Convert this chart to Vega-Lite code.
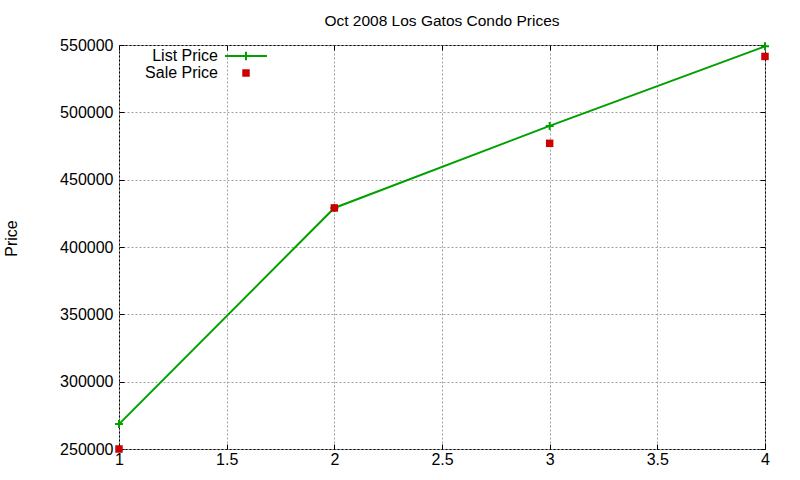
{
  "$schema": "https://vega.github.io/schema/vega-lite/v6.json",
  "width": 646,
  "height": 404,
  "autosize": "none",
  "padding": {"left": 119, "top": 45, "right": 35, "bottom": 31},
  "background": "white",
  "title": {"text": "Oct 2008 Los Gatos Condo Prices", "font": "Liberation Sans", "fontSize": 15.5, "fontWeight": "normal", "color": "black", "anchor": "middle", "frame": "group", "baseline": "alphabetic", "offset": 17, "dy": 21},
  "config": {
    "view": {"stroke": "black", "strokeWidth": 1},
    "axis": {"labelFont": "Liberation Sans", "labelFontSize": 16, "labelColor": "black", "labelFlush": false, "labelOverlap": false, "titleFont": "Liberation Sans", "titleFontSize": 16, "titleFontWeight": "normal", "titleColor": "black", "domain": false, "tickColor": "black", "tickSize": -5, "tickWidth": 1, "gridColor": "#a0a0a0", "gridDash": [2, 2], "gridOpacity": 1, "gridWidth": 1}
  },
  "data": {"values": [
    {"bedrooms": 1, "series": "List Price", "price": 268500},
    {"bedrooms": 2, "series": "List Price", "price": 429000},
    {"bedrooms": 3, "series": "List Price", "price": 489900},
    {"bedrooms": 4, "series": "List Price", "price": 549000},
    {"bedrooms": 1, "series": "Sale Price", "price": 250000},
    {"bedrooms": 2, "series": "Sale Price", "price": 429000},
    {"bedrooms": 3, "series": "Sale Price", "price": 477000},
    {"bedrooms": 4, "series": "Sale Price", "price": 541500}
  ]},
  "encoding": {
    "x": {"field": "bedrooms", "type": "quantitative", "scale": {"domain": [1, 4], "nice": false, "zero": false}},
    "y": {"field": "price", "type": "quantitative", "scale": {"domain": [250000, 550000], "nice": false, "zero": false}},
    "color": {"field": "series", "type": "nominal", "scale": {"domain": ["List Price", "Sale Price"], "range": ["#00a000", "#cc0000"]},
      "legend": {"title": null, "orient": "none", "legendX": 119, "legendY": 3, "padding": 0, "labelFont": "Liberation Sans", "labelFontSize": 16, "labelColor": "black", "labelAlign": "right", "labelOffset": -36, "symbolSize": 56, "rowPadding": 0,
        "encode": {
          "labels": {"update": {"y": {"signal": "datum.value === 'List Price' ? 8 : 4"}, "baseline": {"value": "middle"}}},
          "symbols": {"update": {
          "y": {"signal": "datum.value === 'List Price' ? 8 : 4"},
          "shape": {"signal": "datum.value === 'List Price' ? 'M-1,0H1M0,-0.2V0.2' : 'square'"},
          "size": {"signal": "datum.value === 'List Price' ? 1764 : 56"},
          "fill": {"signal": "datum.value === 'List Price' ? 'transparent' : '#cc0000'"},
          "stroke": {"signal": "datum.value === 'List Price' ? '#00a000' : 'transparent'"},
          "strokeWidth": {"signal": "datum.value === 'List Price' ? 2 : 0"},
          "opacity": {"value": 1}
        }}}}}
  },
  "layer": [
    {
      "transform": [{"filter": "datum.series === 'List Price'"}],
      "mark": {"type": "line", "strokeWidth": 2},
      "encoding": {
        "x": {"field": "bedrooms", "type": "quantitative", "title": null, "axis": {"values": [1, 1.5, 2, 2.5, 3, 3.5, 4], "format": ".1~f", "grid": true, "labelPadding": 7}},
        "y": {"field": "price", "type": "quantitative", "title": "Price", "axis": {"values": [250000, 300000, 350000, 400000, 450000, 500000, 550000], "format": "d", "grid": true, "labelPadding": 11, "titleAngle": -90, "titleX": -103, "titleY": 193, "titleAlign": "center", "titleBaseline": "alphabetic"}}
      }
    },
    {
      "transform": [{"filter": "datum.series === 'List Price'"}],
      "mark": {"type": "point", "shape": "M-1,0H1M0,-1V1", "filled": false, "size": 64, "strokeWidth": 2, "opacity": 1},
      "encoding": {
        "x": {"field": "bedrooms", "type": "quantitative", "axis": {"orient": "top", "values": [1, 1.5, 2, 2.5, 3, 3.5, 4], "labels": false, "grid": false, "title": null}},
        "y": {"field": "price", "type": "quantitative", "axis": {"orient": "right", "values": [250000, 300000, 350000, 400000, 450000, 500000, 550000], "labels": false, "grid": false, "title": null}}
      }
    },
    {
      "transform": [{"filter": "datum.series === 'Sale Price'"}],
      "mark": {"type": "square", "size": 56, "filled": true, "opacity": 1},
      "encoding": {
        "x": {"field": "bedrooms", "type": "quantitative", "axis": null},
        "y": {"field": "price", "type": "quantitative", "axis": null}
      }
    }
  ],
  "resolve": {"axis": {"x": "independent", "y": "independent"}}
}
